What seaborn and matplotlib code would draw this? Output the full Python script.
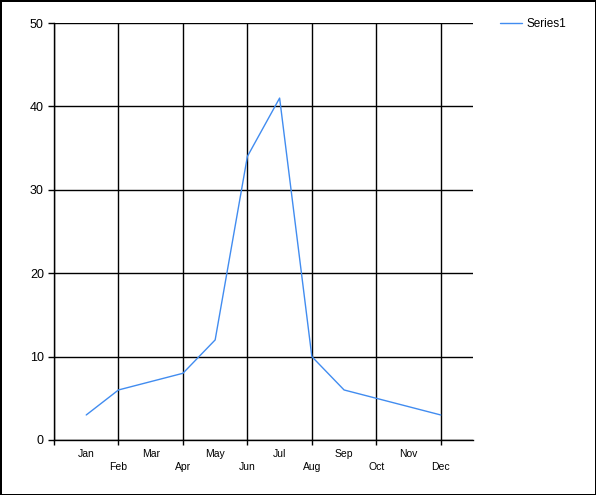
import matplotlib
matplotlib.use("Agg")
import matplotlib.pyplot as plt
import seaborn as sns
import pandas as pd

# data
months = ["Jan", "Feb", "Mar", "Apr", "May", "Jun",
          "Jul", "Aug", "Sep", "Oct", "Nov", "Dec"]
month_idx = list(range(1, 13))
series1 = [3, 6, 7, 8, 12, 34, 41, 10, 6, 5, 4, 3]
y_ticks = [0, 10, 20, 30, 40, 50]

sns.set_style("white")
plt.rcParams['font.family'] = ['Liberation Sans', 'DejaVu Sans']
plt.rcParams['text.color'] = 'black'

df = pd.DataFrame({"month": month_idx, "value": series1})

fig = plt.figure(figsize=(5.96, 4.95), dpi=100)
ax = fig.add_axes([54 / 596, 1 - 440 / 495, (473 - 54) / 596, (440 - 23) / 495])

sns.lineplot(data=df, x="month", y="value", ax=ax, color="#418CF0",
             linewidth=1.0, label="Series1", legend=False)

ax.set_xlim(0, 13)
ax.set_ylim(0, 50)

# odd months as major labels (upper row), even months as minor (lower row, with ticks + grid)
ax.set_xticks(month_idx[0::2])
ax.set_xticklabels(months[0::2])
ax.set_xticks([0] + month_idx[1::2], minor=True)
ax.set_xticklabels([""] + months[1::2], minor=True)
ax.tick_params(axis="x", which="major", bottom=True, length=0, pad=6.3,
               labelsize=7.5, labelcolor="black")
ax.tick_params(axis="x", which="minor", bottom=True, length=3.6, width=1,
               color="black", direction="out", pad=12.5, labelsize=7.5,
               labelcolor="black")

ax.set_yticks(y_ticks)
ax.tick_params(axis="y", which="major", left=True, length=4.3, width=1,
               color="black", direction="out", pad=3, labelsize=9,
               labelcolor="black")

ax.grid(False)
ax.xaxis.grid(True, which="minor", color="black", linewidth=1)
ax.yaxis.grid(True, which="major", color="black", linewidth=1)

for s in ["top", "right"]:
    ax.spines[s].set_visible(False)
for s in ["left", "bottom"]:
    ax.spines[s].set_color("black")
    ax.spines[s].set_linewidth(1)

ax.set_xlabel("")
ax.set_ylabel("")

fig.legend(loc="center left", bbox_to_anchor=(500 / 596, 1 - 24 / 495),
           frameon=False, fontsize=8.5, borderpad=0, borderaxespad=0,
           handlelength=1.86, handletextpad=0.42, labelcolor="black")

fig.patch.set_edgecolor("black")
fig.patch.set_linewidth(2)

fig.savefig("out.png", dpi=100, facecolor="white", edgecolor="black")
